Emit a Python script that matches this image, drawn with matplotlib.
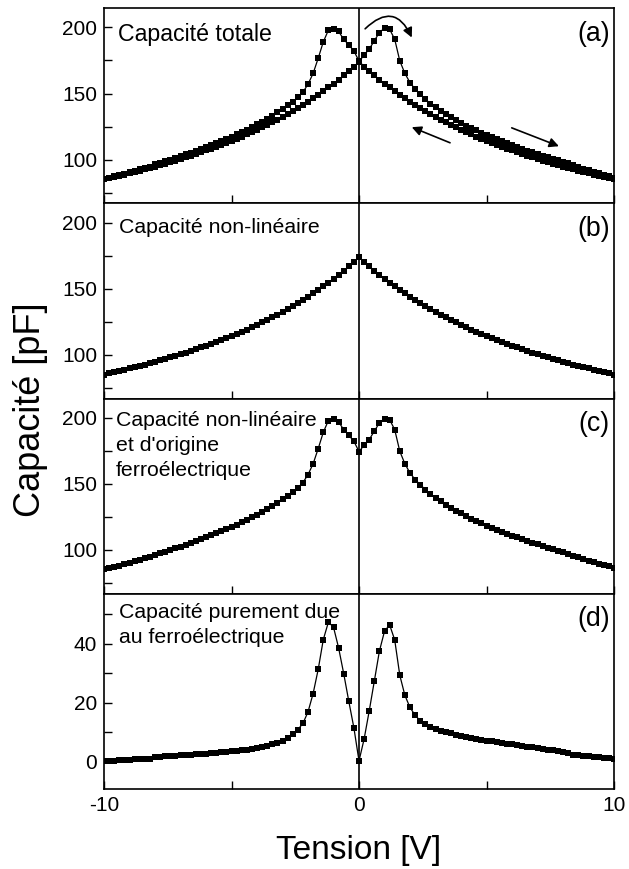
import matplotlib
matplotlib.use('Agg')
import matplotlib.pyplot as plt

plt.rcParams['font.family'] = ['Liberation Sans', 'DejaVu Sans']
plt.rcParams['axes.unicode_minus'] = False

# Tension (V), pas de 0.2 V
tension = [
    -10.0, -9.8, -9.6, -9.4, -9.2, -9.0, -8.8, -8.6, -8.4, -8.2,
    -8.0, -7.8, -7.6, -7.4, -7.2, -7.0, -6.8, -6.6, -6.4, -6.2,
    -6.0, -5.8, -5.6, -5.4, -5.2, -5.0, -4.8, -4.6, -4.4, -4.2,
    -4.0, -3.8, -3.6, -3.4, -3.2, -3.0, -2.8, -2.6, -2.4, -2.2,
    -2.0, -1.8, -1.6, -1.4, -1.2, -1.0, -0.8, -0.6, -0.4, -0.2,
    0.0,
    0.2, 0.4, 0.6, 0.8, 1.0, 1.2, 1.4, 1.6, 1.8, 2.0,
    2.2, 2.4, 2.6, 2.8, 3.0, 3.2, 3.4, 3.6, 3.8, 4.0,
    4.2, 4.4, 4.6, 4.8, 5.0, 5.2, 5.4, 5.6, 5.8, 6.0,
    6.2, 6.4, 6.6, 6.8, 7.0, 7.2, 7.4, 7.6, 7.8, 8.0,
    8.2, 8.4, 8.6, 8.8, 9.0, 9.2, 9.4, 9.6, 9.8, 10.0,
]

# (b) capacite non-lineaire (pF)
cap_nl = [
    85.0, 85.9, 86.8, 87.7, 88.6, 89.6, 90.6, 91.6, 92.6, 93.6,
    94.7, 95.8, 96.9, 98.0, 99.2, 100.4, 101.6, 102.9, 104.2, 105.5,
    106.9, 108.3, 109.7, 111.2, 112.7, 114.2, 115.8, 117.4, 119.1, 120.9,
    122.6, 124.5, 126.4, 128.3, 130.3, 132.4, 134.6, 136.8, 139.1, 141.4,
    143.9, 146.4, 149.0, 151.8, 154.6, 157.5, 160.5, 163.7, 167.0, 170.4,
    174.0,
    170.4, 167.0, 163.7, 160.5, 157.5, 154.6, 151.8, 149.0, 146.4, 143.9,
    141.4, 139.1, 136.8, 134.6, 132.4, 130.3, 128.3, 126.4, 124.5, 122.6,
    120.9, 119.1, 117.4, 115.8, 114.2, 112.7, 111.2, 109.7, 108.3, 106.9,
    105.5, 104.2, 102.9, 101.6, 100.4, 99.2, 98.0, 96.9, 95.8, 94.7,
    93.6, 92.6, 91.6, 90.6, 89.6, 88.6, 87.7, 86.8, 85.9, 85.0,
]

# (c) capacite non-lineaire et d'origine ferroelectrique (pF)
cap_nl_fe = [
    85.2, 86.2, 87.2, 88.2, 89.2, 90.3, 91.4, 92.5, 93.6, 94.7,
    96.4, 97.6, 98.8, 100.0, 101.3, 102.6, 103.9, 105.3, 106.7, 108.1,
    109.6, 111.1, 112.6, 114.2, 115.8, 117.4, 119.1, 120.9, 122.7, 124.7,
    126.7, 128.8, 131.0, 133.3, 135.8, 138.5, 141.0, 143.8, 147.0, 151.0,
    157.0, 165.2, 176.7, 189.1, 198.0, 199.2, 197.0, 191.1, 186.8, 182.3,
    174.5,
    179.3, 183.6, 189.9, 196.2, 199.5, 198.7, 191.1, 174.7, 165.2, 158.3,
    153.3, 149.5, 145.7, 142.4, 139.5, 136.8, 134.3, 132.0, 129.8, 127.7,
    125.7, 123.8, 122.0, 120.2, 118.5, 116.9, 115.3, 113.8, 112.3, 110.9,
    109.5, 108.1, 106.8, 105.5, 104.2, 103.0, 101.8, 100.6, 99.4, 98.3,
    97.1, 95.6, 94.4, 93.2, 92.0, 90.8, 89.7, 88.6, 87.5, 86.4,
]

# (d) capacite purement due au ferroelectrique (pF)
cap_fe = [
    0.2, 0.3, 0.4, 0.5, 0.6, 0.7, 0.8, 0.9, 1.0, 1.1,
    1.7, 1.8, 1.9, 2.0, 2.1, 2.2, 2.3, 2.4, 2.5, 2.6,
    2.8, 2.9, 3.0, 3.2, 3.3, 3.5, 3.7, 3.9, 4.1, 4.4,
    4.7, 5.1, 5.5, 6.0, 6.5, 7.2, 8.1, 9.3, 10.9, 13.0,
    16.9, 23.1, 31.3, 41.4, 47.3, 45.6, 38.6, 29.9, 20.5, 11.5,
    0.3,
    7.7, 17.2, 27.3, 37.5, 44.2, 46.4, 41.3, 29.3, 22.5, 18.4,
    15.8, 13.9, 12.8, 11.9, 11.2, 10.6, 10.1, 9.6, 9.2, 8.8,
    8.5, 8.1, 7.8, 7.5, 7.2, 6.9, 6.7, 6.4, 6.1, 5.9,
    5.6, 5.4, 5.1, 4.9, 4.6, 4.4, 4.1, 3.9, 3.6, 3.4,
    3.1, 2.4, 2.2, 2.0, 1.9, 1.7, 1.5, 1.4, 1.2, 1.0,
]

# (a) capacite totale : branche aller (-10 -> 10) et branche retour (10 -> -10)
n_mid = tension.index(0.0)
branch_up = cap_nl[:n_mid + 1] + cap_nl_fe[n_mid + 1:]
branch_down = cap_nl_fe[:n_mid + 1] + cap_nl[n_mid + 1:]

fig = plt.figure(figsize=(6.29, 8.69), dpi=100)

left, width = 104 / 629, 510 / 629
h = 195.2 / 869
y0 = 1 - 789 / 869
bottoms = [y0 + 3 * h, y0 + 2 * h, y0 + h, y0]
axes = [fig.add_axes([left, b, width, h]) for b in bottoms]

line_kw = dict(color='black', lw=0.9, marker='s', markersize=4.0, markeredgewidth=0)

axes[0].plot(tension, branch_up, **line_kw)
axes[0].plot(tension, branch_down, **line_kw)
axes[1].plot(tension, cap_nl, **line_kw)
axes[2].plot(tension, cap_nl_fe, **line_kw)
axes[3].plot(tension, cap_fe, **line_kw)

for i, ax in enumerate(axes):
    ax.set_xlim(-10, 10)
    ax.axvline(0, color='black', lw=1.2)
    ax.set_xticks([-10, 0, 10])
    ax.set_xticks([-5, 5], minor=True)
    if i < 3:
        ax.set_ylim(66.8, 214.6)
        ax.set_yticks([100, 150, 200])
        ax.set_yticks([75, 125, 175], minor=True)
        ax.tick_params(axis='x', labelbottom=False)
    else:
        ax.set_ylim(-9.2, 56.9)
        ax.set_yticks([0, 20, 40])
        ax.set_yticks([10, 30, 50], minor=True)
    ax.tick_params(which='both', direction='in', length=6, width=1,
                   top=False, right=False, labelsize=15, pad=5)
    for sp in ax.spines.values():
        sp.set_linewidth(1.2)

# Textes des panneaux
axes[0].text(0.028, 1 - 32.7 / 195.2, 'Capacité totale', transform=axes[0].transAxes,
             fontsize=16.7, va='baseline', ha='left')
axes[1].text(0.030, 1 - 29.3 / 195.2, 'Capacité non-linéaire', transform=axes[1].transAxes,
             fontsize=15.3, va='baseline', ha='left')
for k, line in enumerate(['Capacité non-linéaire', "et d'origine", 'ferroélectrique']):
    axes[2].text(0.024, 1 - (27.7 + 25 * k) / 195.2, line, transform=axes[2].transAxes,
                 fontsize=15.3, va='baseline', ha='left')
for k, line in enumerate(['Capacité purement due', 'au ferroélectrique']):
    axes[3].text(0.030, 1 - (24 + 25 * k) / 195.2, line, transform=axes[3].transAxes,
                 fontsize=15.3, va='baseline', ha='left')

for ax, lab in zip(axes, ['(a)', '(b)', '(c)', '(d)']):
    ax.text(0.992, 1 - 25.5 / 195.2, lab, transform=ax.transAxes,
            fontsize=19.3, va='center', ha='right')

# Fleches du cycle
arrow_kw = dict(arrowstyle='-|>', color='black', lw=1.2, mutation_scale=14,
                shrinkA=0, shrinkB=0)
axes[0].annotate('', xy=(2.07, 192.4), xytext=(0.24, 199.0),
                 arrowprops=dict(connectionstyle='arc3,rad=-0.7', **arrow_kw))
axes[0].annotate('', xy=(2.07, 124.5), xytext=(3.57, 112.7), arrowprops=arrow_kw)
axes[0].annotate('', xy=(7.84, 110.1), xytext=(5.99, 124.0), arrowprops=arrow_kw)

fig.text(30 / 629, 1 - 410 / 869, 'Capacité [pF]', rotation=90,
         fontsize=26, ha='center', va='center')
fig.text(359 / 629, 1 - 851 / 869, 'Tension [V]', fontsize=24, ha='center', va='center')

fig.savefig('out.png', dpi=100)
